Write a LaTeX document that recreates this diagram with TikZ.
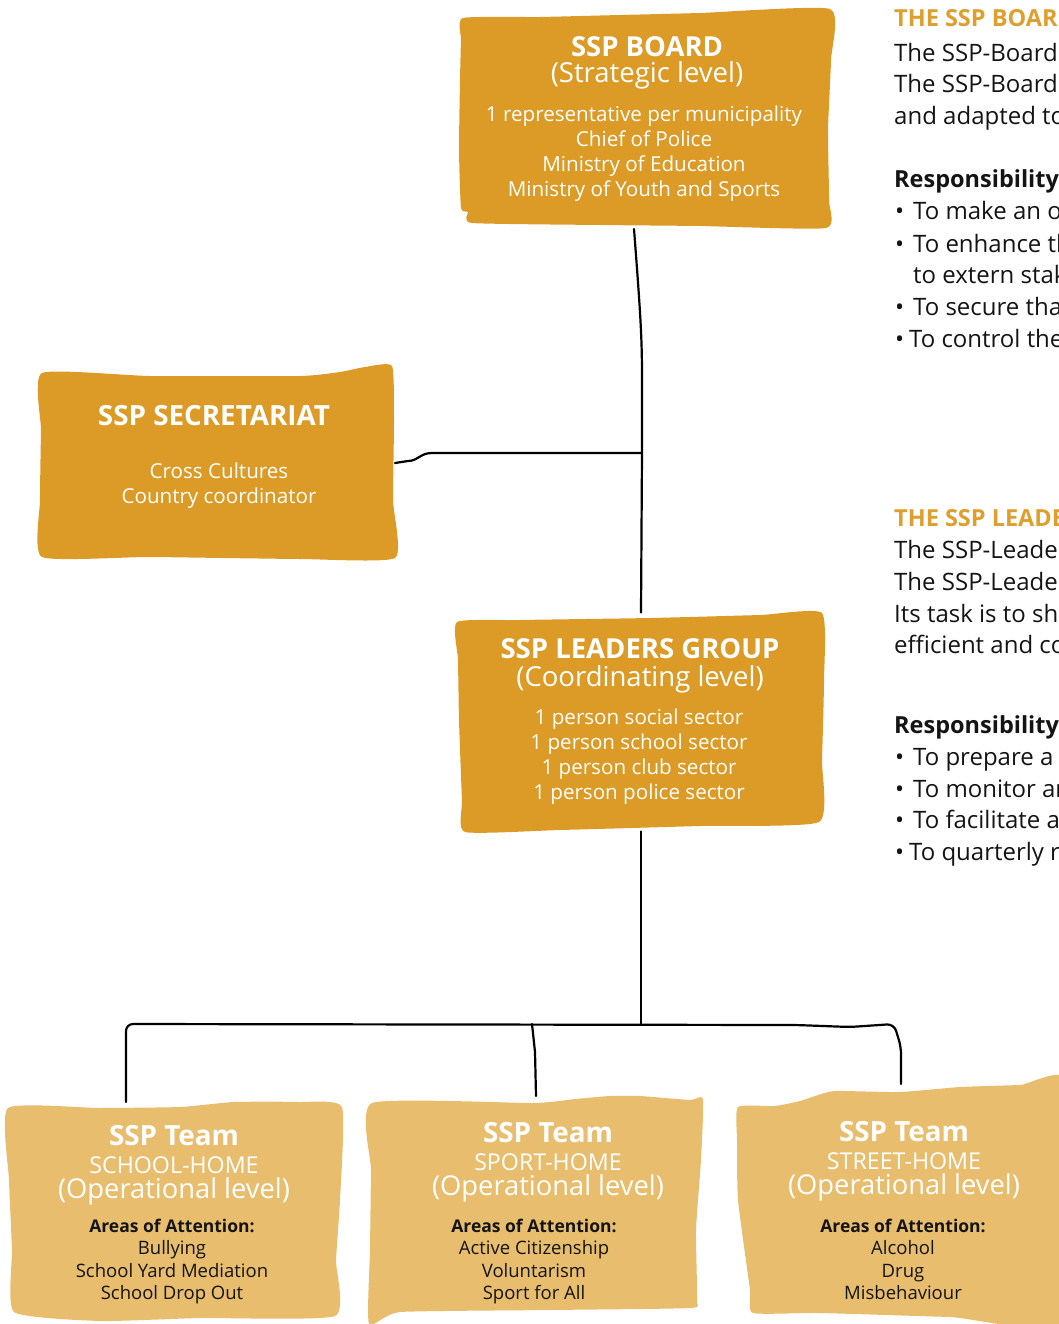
\documentclass[tikz,border=0pt]{standalone}
\usepackage{fontspec}
\setmainfont{Open Sans}
\usetikzlibrary{positioning}

\definecolor{boardgold}{HTML}{DB9B26}
\definecolor{teamgold}{HTML}{E8BE6E}
\definecolor{headgold}{HTML}{DF9F2E}
\definecolor{inktext}{HTML}{141414}

\newcommand\fsz[1]{\fontsize{#1}{#1}\selectfont}

\begin{document}
\begin{tikzpicture}[x=1pt,y=-1pt,
		link/.style={line width=2.2pt,black,line cap=round,line join=round},
		boxarea/.style={inner sep=0pt,outer sep=0pt},
		boxtxt/.style={anchor=base,inner sep=0pt,text=white},
		teamtxt/.style={anchor=base,inner sep=0pt,text=inktext},
		sidetxt/.style={anchor=base west,inner sep=0pt,text=inktext,font=\fsz{24}}]
		
		%Page size
		\useasboundingbox (0,0) rectangle (1059,1324);
		
		%Box areas
		\node[boxarea,minimum width=370pt,minimum height=218pt] (board) at (645,120) {};
		\node[boxarea,minimum width=355pt,minimum height=194pt] (secr) at (217.5,463) {};
		\node[boxarea,minimum width=366pt,minimum height=219pt] (leaders) at (641,722) {};
		\node[boxarea,minimum width=334pt,minimum height=218pt] (team1) at (175,1211) {};
		\node[boxarea,minimum width=336pt,minimum height=228pt] (team2) at (536,1210) {};
		\node[boxarea,minimum width=324pt,minimum height=236pt] (team3) at (897,1202) {};
		
		%Marking coordinates
		\coordinate (hub) at (642,453);
		\coordinate (bus) at (641,1024);
		\coordinate (busmid) at (532,1024);
		
		%Drawing connectors
		\draw[link] ([xshift=-11pt]board.south) .. controls (641,320) and (642,340) .. (642,380) -- (hub) -- (leaders.north);
		\draw[link] (secr.east) -- (408,461) .. controls (418,461) and (420,453) .. (432,453) -- (hub);
		\draw[link] (leaders.south) -- (bus);
		\draw[link,rounded corners=7pt] ([xshift=-49pt]team1.north) -- (126,1024) -- (796,1025) -- (850,1027) -- (894,1024) -- (901,1047) -- ([xshift=4pt]team3.north);
		\draw[link] (busmid) -- (535,1052) -- (team2.north);
		
		%Drawing boxes
		\fill[boardgold] plot[smooth cycle,tension=.3] coordinates {(463,18) (540,17) (620,15) (700,13) (830,9) (831,60) (828,130) (829,200) (826,228) (700,226) (600,225) (472,223) (468,212) (461,208) (459,150) (460,80) (461,40)};
		\fill[boardgold] plot[smooth cycle,tension=.3] coordinates {(42,373) (150,376) (300,376) (340,372) (365,367) (392,366) (394,420) (393,500) (395,558) (300,559) (150,557) (42,557) (40,500) (41,430)};
		\fill[boardgold] plot[smooth cycle,tension=.3] coordinates {(457,622) (520,620) (650,618) (760,615) (822,613) (824,680) (822,760) (819,822) (700,826) (560,830) (465,832) (462,800) (459,720) (458,660)};
		\fill[teamgold] plot[smooth cycle,tension=.3] coordinates {(8,1108) (100,1108) (180,1107) (234,1102) (298,1102) (342,1107) (340,1200) (336,1260) (335,1316) (200,1318) (100,1321) (14,1312) (12,1250) (9,1180)};
		\fill[teamgold] plot[smooth cycle,tension=.3] coordinates {(372,1103) (534,1103) (575,1099) (610,1096) (640,1096) (690,1100) (703,1099) (701,1160) (696,1230) (697,1300) (690,1308) (550,1310) (400,1312) (369,1324) (370,1250) (371,1170)};
		\fill[teamgold] plot[smooth cycle,tension=.3] coordinates {(738,1107) (775,1106) (800,1101) (815,1096) (835,1091) (900,1092) (960,1087) (1020,1085) (1070,1083) (1070,1320) (950,1317) (820,1313) (753,1313) (750,1290) (738,1200) (737,1140)};
		
		%SSP Board text
		\node[boxtxt,font=\bfseries\fsz{27.5}] (boardtitle) at (647,57) {SSP BOARD};
		\node[boxtxt,font=\fsz{27.5}] (boardlevel) at (647,83) {(Strategic level)};
		\foreach \txt [count=\i] in {1 representative per municipality,Chief of Police,Ministry of Education,Ministry of Youth and Sports}
		\node[boxtxt,font=\fsz{20.6}] (boardline\i) at (644,97+25*\i) {\txt};
		
		%SSP Secretariat text
		\node[boxtxt,font=\bfseries\fsz{27.8}] (secrtitle) at (214,425) {SSP SECRETARIAT};
		\node[boxtxt,font=\fsz{20.6}] (secrline1) at (219,478) {Cross Cultures};
		\node[boxtxt,font=\fsz{20.6}] (secrline2) at (219,503) {Country coordinator};
		
		%SSP Leaders Group text
		\node[boxtxt,font=\bfseries\fsz{27.5}] (leadtitle) at (640,658) {SSP LEADERS GROUP};
		\node[boxtxt,font=\fsz{27.5}] (leadlevel) at (640,686) {(Coordinating level)};
		\foreach \txt [count=\i] in {1 person social sector,1 person school sector,1 person club sector,1 person police sector}
		\node[boxtxt,font=\fsz{20.6}] (leadline\i) at (639,699+25*\i) {\txt};
		
		%SSP Team texts
		\foreach \n/\cx/\ax/\yb/\home/\ta/\tb/\tc in {1/174/172/1145/SCHOOL-HOME/Bullying/School Yard Mediation/School Drop Out,
			2/548/534/1142/SPORT-HOME/Active Citizenship/Voluntarism/Sport for All,
			3/904/903/1141/STREET-HOME/Alcohol/Drug/Misbehaviour}{
			\node[boxtxt,font=\bfseries\fsz{27.8}] (teamtitle\n) at (\cx,\yb) {SSP Team};
			\node[boxtxt,font=\fsz{23.2}] (teamhome\n) at (\cx,\yb+28) {\home};
			\node[boxtxt,font=\fsz{27.3}] (teamlevel\n) at (\cx,\yb+53) {(Operational level)};
			\node[teamtxt,font=\bfseries\fsz{17.5}] (teamareas\n) at (\ax,1232) {Areas of Attention:};
			\node[teamtxt,font=\fsz{18.5}] (teamitem\n a) at (\ax,1254) {\ta};
			\node[teamtxt,font=\fsz{18.5}] (teamitem\n b) at (\ax,1277) {\tb};
			\node[teamtxt,font=\fsz{18.5}] (teamitem\n c) at (\ax,1299) {\tc};
		}
		
		%Side notes on the board
		\node[sidetxt,text=headgold,font=\bfseries\fsz{23.5}] (boardhead) at (894,27) {THE SSP BOARD};
		\node[sidetxt] (boardnote1) at (894,62) {The SSP-Board};
		\node[sidetxt] (boardnote2) at (894,93) {The SSP-Board};
		\node[sidetxt] (boardnote3) at (894,125) {and adapted to};
		\node[sidetxt,font=\bfseries\fsz{23.5}] (boardresp) at (894,188) {Responsibility};
		\foreach \y/\txt in {220/To make an o,252/To enhance th,315/To secure tha}
		{\node[sidetxt] at (895,\y) {\textbullet};
			\node[sidetxt] at (913,\y) {\txt};}
		\node[sidetxt] (boardnote4) at (913,283) {to extern stak};
		\node[sidetxt] (boardbull) at (895,347) {\textbullet};
		\node[sidetxt] (boardnote5) at (909,347) {To control the};
		
		%Side notes on the leaders group
		\node[sidetxt,text=headgold,font=\bfseries\fsz{23.5}] (leadhead) at (894,526) {THE SSP LEADERS};
		\node[sidetxt] (leadnote1) at (894,558) {The SSP-Leaders};
		\node[sidetxt] (leadnote2) at (894,590) {The SSP-Leaders};
		\node[sidetxt] (leadnote3) at (894,622) {Its task is to sha};
		\node[sidetxt] (leadnote4) at (894,653) {efficient and co};
		\node[sidetxt,font=\bfseries\fsz{23.5}] (leadresp) at (894,733) {Responsibility};
		\foreach \y/\txt in {765/To prepare a,797/To monitor an,828/To facilitate a}
		{\node[sidetxt] at (895,\y) {\textbullet};
			\node[sidetxt] at (913,\y) {\txt};}
		\node[sidetxt] (leadbull) at (895,860) {\textbullet};
		\node[sidetxt] (leadnote5) at (909,860) {To quarterly r};
	\end{tikzpicture}
\end{document}
